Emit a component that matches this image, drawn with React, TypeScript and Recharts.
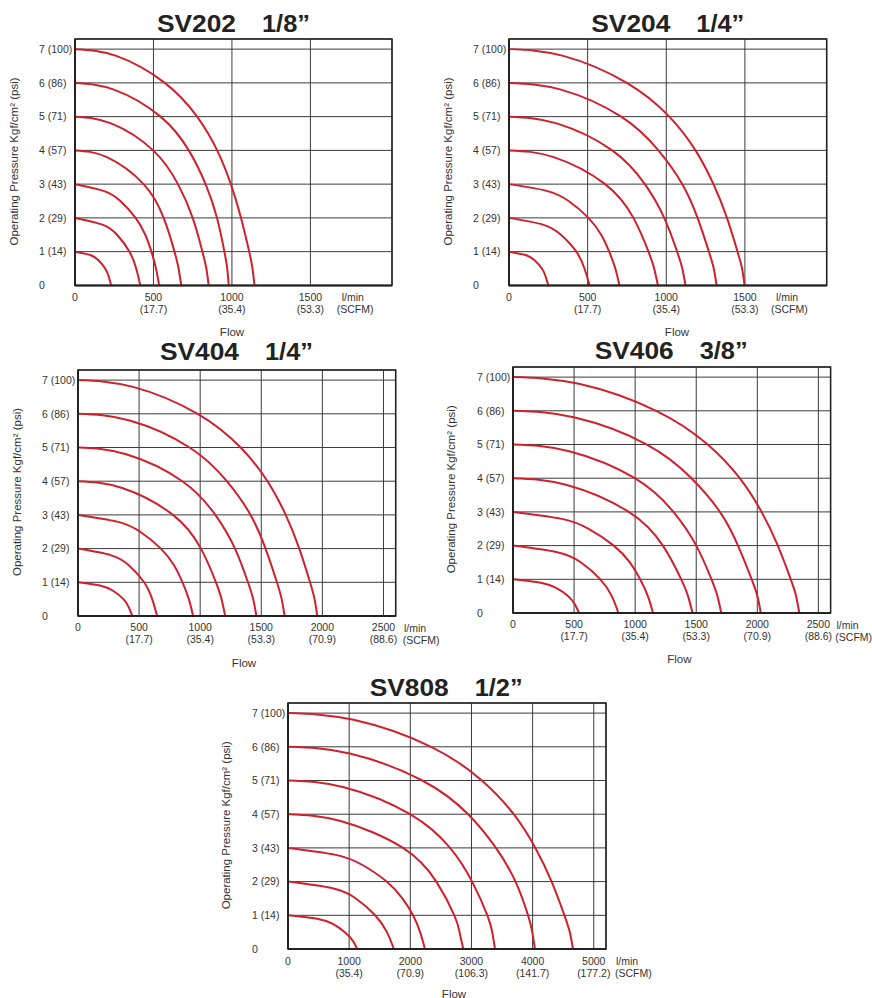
import React from "react";
import {
  LineChart,
  Line,
  XAxis,
  YAxis,
  CartesianGrid,
  ReferenceArea,
} from "recharts";

const RED = "#D0202E";
const INK = "#333";
const GRID = "#3a3a3a";
const FONT = "'Liberation Sans', Arial, sans-serif";

const PRESSURE_TICKS = [0, 1, 2, 3, 4, 5, 6, 7];
const PRESSURE_LABELS = ["0", "1 (14)", "2 (29)", "3 (43)", "4 (57)", "5 (71)", "6 (86)", "7 (100)"];

const FLOW_TICKS_1500 = [0, 500, 1000, 1500];
const SCFM_1500 = ["", "(17.7)", "(35.4)", "(53.3)"];
const FLOW_TICKS_2500 = [0, 500, 1000, 1500, 2000, 2500];
const SCFM_2500 = ["", "(17.7)", "(35.4)", "(53.3)", "(70.9)", "(88.6)"];
const FLOW_TICKS_5000 = [0, 1000, 2000, 3000, 4000, 5000];
const SCFM_5000 = ["", "(35.4)", "(70.9)", "(106.3)", "(141.7)", "(177.2)"];

// each curve: [flow l/min, pressure kgf/cm2]
const SV202 = [
  [[0, 1], [97, 0.9], [148, 0.75], [192, 0.5], [216, 0.25], [230, 0]],
  [[0, 2], [175, 1.8], [268, 1.5], [347, 1], [390, 0.5], [416, 0]],
  [[0, 3], [182, 2.8], [289, 2.5], [386, 2], [448, 1.5], [487, 1], [516, 0.5], [536, 0]],
  [[0, 4], [203, 3.8], [437, 3], [565, 2], [634, 1], [660, 0.5], [677, 0]],
  [[0, 5], [230, 4.8], [498, 4], [656, 3], [750, 2], [812, 1], [837, 0.5], [852, 0]],
  [[0, 6], [248, 5.8], [545, 5], [725, 4], [832, 3], [905, 2], [952, 1], [970, 0.5], [980, 0]],
  [[0, 7], [263, 6.8], [572, 6], [778, 5], [906, 4], [993, 3], [1058, 2], [1110, 1], [1131, 0.5], [1144, 0]],
];

const SV204 = [
  [[0, 1], [105, 0.9], [161, 0.75], [209, 0.5], [234, 0.25], [250, 0]],
  [[0, 2], [215, 1.8], [330, 1.5], [428, 1], [480, 0.5], [512, 0]],
  [[0, 3], [239, 2.8], [379, 2.5], [505, 2], [586, 1.5], [637, 1], [676, 0.5], [702, 0]],
  [[0, 4], [284, 3.8], [611, 3], [791, 2], [887, 1], [923, 0.5], [947, 0]],
  [[0, 5], [303, 4.8], [656, 4], [864, 3], [987, 2], [1069, 1], [1102, 0.5], [1122, 0]],
  [[0, 6], [330, 5.8], [713, 5], [950, 4], [1102, 3], [1199, 2], [1271, 1], [1302, 0.5], [1320, 0]],
  [[0, 7], [345, 6.8], [749, 6], [1019, 5], [1186, 4], [1300, 3], [1386, 2], [1453, 1], [1482, 0.5], [1498, 0]],
];

const SV404 = [
  [[0, 1], [187, 0.9], [287, 0.75], [372, 0.5], [417, 0.25], [445, 0]],
  [[0, 2], [272, 1.8], [418, 1.5], [541, 1], [607, 0.5], [648, 0]],
  [[0, 3], [320, 2.8], [509, 2.5], [678, 2], [787, 1.5], [855, 1], [907, 0.5], [942, 0]],
  [[0, 4], [362, 3.8], [777, 3], [1006, 2], [1129, 1], [1175, 0.5], [1205, 0]],
  [[0, 5], [394, 4.8], [854, 4], [1124, 3], [1285, 2], [1391, 1], [1434, 0.5], [1460, 0]],
  [[0, 6], [423, 5.8], [913, 5], [1218, 4], [1412, 3], [1535, 2], [1628, 1], [1667, 0.5], [1691, 0]],
  [[0, 7], [450, 6.8], [979, 6], [1331, 5], [1551, 4], [1700, 3], [1811, 2], [1899, 1], [1936, 0.5], [1958, 0]],
];

const SV406 = [
  [[0, 1], [227, 0.9], [349, 0.75], [452, 0.5], [507, 0.25], [541, 0]],
  [[0, 2], [362, 1.8], [557, 1.5], [715, 1], [809, 0.5], [863, 0]],
  [[0, 3], [390, 2.8], [619, 2.5], [825, 2], [957, 1.5], [1041, 1], [1104, 0.5], [1146, 0]],
  [[0, 4], [441, 3.8], [948, 3], [1227, 2], [1377, 1], [1433, 0.5], [1470, 0]],
  [[0, 5], [460, 4.8], [997, 4], [1313, 3], [1500, 2], [1625, 1], [1674, 0.5], [1705, 0]],
  [[0, 6], [507, 5.8], [1096, 5], [1461, 4], [1694, 3], [1842, 2], [1954, 1], [2001, 0.5], [2029, 0]],
  [[0, 7], [539, 6.8], [1172, 6], [1594, 5], [1856, 4], [2035, 3], [2168, 2], [2274, 1], [2318, 0.5], [2344, 0]],
];

const SV808 = [
  [[0, 1], [475, 0.9], [725, 0.75], [930, 0.5], [1058, 0.25], [1131, 0]],
  [[0, 2], [727, 1.8], [1110, 1.5], [1425, 1], [1618, 0.5], [1731, 0]],
  [[0, 3], [762, 2.8], [1210, 2.5], [1613, 2], [1870, 1.5], [2045, 1], [2160, 0.5], [2240, 0]],
  [[0, 4], [860, 3.8], [1880, 3], [2425, 2], [2720, 1], [2805, 0.5], [2866, 0]],
  [[0, 5], [914, 4.8], [1995, 4], [2650, 3], [3010, 2], [3260, 1], [3340, 0.5], [3385, 0]],
  [[0, 6], [1010, 5.8], [2195, 5], [2945, 4], [3400, 3], [3720, 2], [3925, 1], [3995, 0.5], [4038, 0]],
  [[0, 7], [1072, 6.8], [2340, 6], [3169, 5], [3691, 4], [4045, 3], [4311, 2], [4520, 1], [4609, 0.5], [4660, 0]],
];

// page layout (plot box in page px)
const CHARTS = [
  { name: "SV202", size: "1/8\u201D", curves: SV202, ticks: FLOW_TICKS_1500, scfm: SCFM_1500, xMax: 2020,
    box: [75, 39.3, 392, 285.7], titleY: 31.7, unitX: [341.7, 336.7], flow: [232, 336] },
  { name: "SV204", size: "1/4\u201D", curves: SV204, ticks: FLOW_TICKS_1500, scfm: SCFM_1500, xMax: 2020,
    box: [509.3, 39.3, 827, 285.7], titleY: 31.7, unitX: [776, 771], flow: [677, 336] },
  { name: "SV404", size: "1/4\u201D", curves: SV404, ticks: FLOW_TICKS_2500, scfm: SCFM_2500, xMax: 2600,
    box: [78, 370, 395.7, 616], titleY: 359.5, unitX: [404, 402.7], flow: [244, 666.7] },
  { name: "SV406", size: "3/8\u201D", curves: SV406, ticks: FLOW_TICKS_2500, scfm: SCFM_2500, xMax: 2600,
    box: [512.7, 367.3, 830.3, 613.3], titleY: 359.3, unitX: [836.5, 835.3], flow: [679.3, 663.3] },
  { name: "SV808", size: "1/2\u201D", curves: SV808, ticks: FLOW_TICKS_5000, scfm: SCFM_5000, xMax: 5200,
    box: [287.7, 703.3, 605.7, 949.3], titleY: 695.7, unitX: [616, 615], flow: [454, 997.5] },
];

const Y_AXIS_W = 75;
const TOP_M = 40;
const RIGHT_M = 12;
const X_AXIS_H = 60;

function FlowChart({ cfg }: { cfg: any }) {
  const [l, t, r, b] = cfg.box;
  const W = r - l + Y_AXIS_W + RIGHT_M;
  const H = b - t + TOP_M + X_AXIS_H;
  const plotBottom = TOP_M + (b - t);

  const yTick = (props: any) => {
    const i = PRESSURE_TICKS.indexOf(props.payload.value);
    return (
      <text x={39} y={props.y} dy={3.7} fontSize={10.5} fill={INK} fontFamily={FONT}>
        {PRESSURE_LABELS[i]}
      </text>
    );
  };

  const xTick = (props: any) => {
    const i = cfg.ticks.indexOf(props.payload.value);
    return (
      <g>
        <text x={props.x} y={plotBottom + 15.5} textAnchor="middle" fontSize={10.5} fill={INK} fontFamily={FONT}>
          {props.payload.value}
        </text>
        <text x={props.x} y={plotBottom + 27.5} textAnchor="middle" fontSize={10.5} fill={INK} fontFamily={FONT}>
          {cfg.scfm[i]}
        </text>
      </g>
    );
  };

  return (
    <div style={{ position: "absolute", left: l - Y_AXIS_W, top: t - TOP_M, width: W, height: H }}>
      <LineChart width={W} height={H} margin={{ top: TOP_M, right: RIGHT_M, bottom: 0, left: 0 }}>
        <CartesianGrid stroke={GRID} strokeWidth={1} />
        <XAxis
          type="number"
          dataKey="f"
          domain={[0, cfg.xMax]}
          ticks={cfg.ticks}
          allowDataOverflow
          height={X_AXIS_H}
          tickLine={false}
          axisLine={{ stroke: "#222", strokeWidth: 2 }}
          tick={xTick}
        />
        <YAxis
          type="number"
          dataKey="p"
          domain={[0, 7.3]}
          ticks={PRESSURE_TICKS}
          allowDataOverflow
          width={Y_AXIS_W}
          tickLine={false}
          axisLine={{ stroke: "#222", strokeWidth: 2 }}
          tick={yTick}
        />
        <ReferenceArea x1={0} x2={cfg.xMax} y1={0} y2={7.3} fill="none" stroke="#222" strokeWidth={1.5} />
        {cfg.curves.map((c: number[][], i: number) => (
          <Line
            key={i}
            data={c.map(([f, p]) => ({ f, p }))}
            dataKey="p"
            type="natural"
            stroke={RED}
            strokeWidth={2}
            dot={false}
            activeDot={false}
            isAnimationActive={false}
          />
        ))}
      </LineChart>
    </div>
  );
}

function Labels({ cfg }: { cfg: any }) {
  const [l, t, , b] = cfg.box;
  const yMid = (t + b) / 2 - 1;
  const yx = l - 61.5;
  return (
    <g fontFamily={FONT} fill={INK}>
      <text x={l + 82} y={cfg.titleY} fontSize={24.5} fontWeight="bold" fill="#222" textLength={79} lengthAdjust="spacingAndGlyphs">
        {cfg.name}
      </text>
      <text x={l + 187} y={cfg.titleY} fontSize={24.5} fontWeight="bold" fill="#222" textLength={48} lengthAdjust="spacingAndGlyphs">
        {cfg.size}
      </text>
      <text
        x={yx}
        y={yMid}
        fontSize={11.5}
        textAnchor="middle"
        dominantBaseline="central"
        transform={`rotate(-90 ${yx} ${yMid})`}
      >
        Operating Pressure Kgf/cm² (psi)
      </text>
      <text x={cfg.unitX[0]} y={b + 15.5} fontSize={10.5}>l/min</text>
      <text x={cfg.unitX[1]} y={b + 27.5} fontSize={10.5}>(SCFM)</text>
      <text x={cfg.flow[0]} y={cfg.flow[1]} fontSize={11.5} textAnchor="middle">Flow</text>
    </g>
  );
}

export default function App() {
  return (
    <div style={{ position: "absolute", left: 0, top: 0, width: 872, height: 998, overflow: "hidden", background: "#fff" }}>
      {CHARTS.map((c) => (
        <FlowChart key={c.name} cfg={c} />
      ))}
      <svg width={872} height={998} style={{ position: "absolute", left: 0, top: 0, pointerEvents: "none" }}>
        {CHARTS.map((c) => (
          <Labels key={c.name} cfg={c} />
        ))}
      </svg>
    </div>
  );
}
